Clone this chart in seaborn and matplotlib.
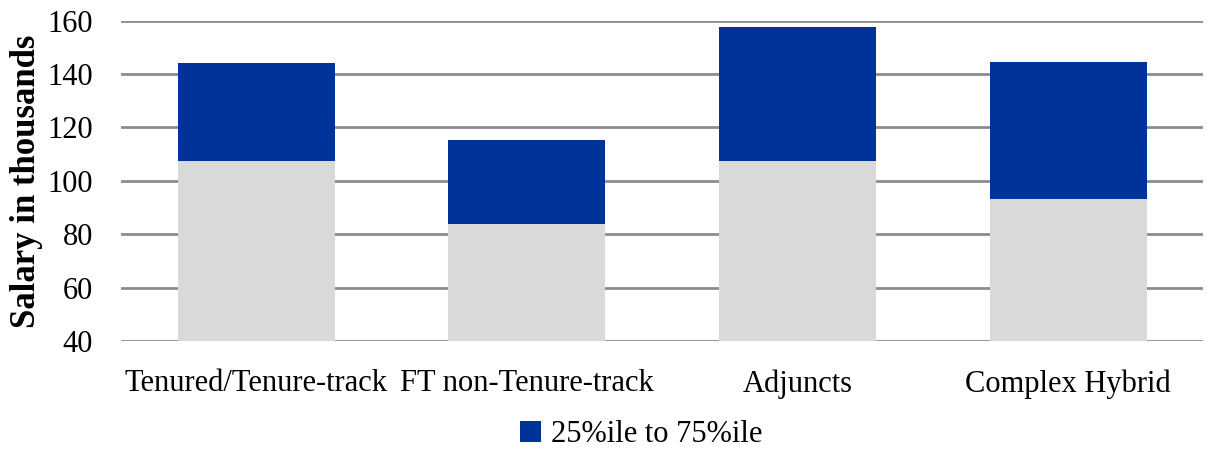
import matplotlib
matplotlib.use('Agg')
import matplotlib.pyplot as plt
import pandas as pd
import seaborn as sns

# 데이터
categories = ['Tenured/Tenure-track', 'FT non-Tenure-track', 'Adjuncts', 'Complex Hybrid']
q25 = [107.5, 83.8, 107.5, 93.3]
q75 = [144.1, 115.2, 157.6, 144.5]

df = pd.DataFrame({'group': categories, 'q25': q25, 'q75': q75})

sns.set_style('white')
plt.rcParams['font.family'] = ['Liberation Serif', 'DejaVu Serif']
plt.rcParams['text.color'] = 'black'

fig = plt.figure(figsize=(12.07, 4.51), dpi=100)
ax = fig.add_axes([0.1, 0.243, 0.897, 0.7115])

# 윗부분(파랑) 먼저 그리고, 아래(회색)를 덮어서 쌓인 막대처럼 보이게
sns.barplot(data=df, x='group', y='q75', color='#003399', saturation=1,
            width=0.58, linewidth=0, label='25%ile to 75%ile', ax=ax, zorder=3)
sns.barplot(data=df, x='group', y='q25', color='#D9D9D9', saturation=1,
            width=0.58, linewidth=0, ax=ax, zorder=3)

ax.set_ylim(40, 160)
ax.set_yticks(range(40, 161, 20))
ax.yaxis.grid(True, color='#8c8c8c', linewidth=2, zorder=0)
ax.set_axisbelow(True)
for s in ax.spines.values():
    s.set_visible(False)
ax.tick_params(axis='both', length=0, labelsize=22, colors='black')
ax.tick_params(axis='x', pad=20)
ax.tick_params(axis='y', pad=20)

ax.set_xlabel('')
ax.set_ylabel('Salary in thousands', fontsize=25, fontweight='bold',
              labelpad=3, color='black')

leg = ax.legend(loc='center', bbox_to_anchor=(0.531, 0.036), bbox_transform=fig.transFigure,
                frameon=False, fontsize=22, handlelength=0.7, handleheight=0.7,
                handletextpad=0.3, borderpad=0)
for t in leg.get_texts():
    t.set_color('black')

fig.savefig('out.png', dpi=100)
